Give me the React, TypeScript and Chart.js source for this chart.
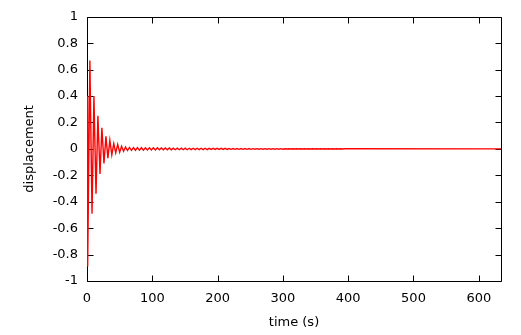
import React, { useEffect, useRef } from "react";
import { Chart, registerables } from "chart.js";

Chart.register(...registerables);

// Extrema of the early, large oscillation (time s, displacement)
const headTimes = [0, 1, 4.4, 7.7, 10.6, 13.8, 16.7, 19.9, 22.8, 26.0, 29.0, 32.0, 35.0, 38.0, 41.0, 44.0, 47.0, 50.0, 53.0, 56.0, 59.0];
const headValues = [0.40, -0.89, 0.67, -0.49, 0.40, -0.34, 0.25, -0.19, 0.16, -0.11, 0.095, -0.07, 0.065, -0.045, 0.04, -0.03, 0.034, -0.025, 0.02, -0.018, 0.014];

// Small residual oscillation, sampled every half period from tailStart
const tailStart = 62.0;
const tailStep = 3.05;
const tailValues = [
  -0.012, 0.011, -0.011, 0.010, -0.010, 0.010, -0.009, 0.009, -0.009, 0.009,
  -0.008, 0.008, -0.008, 0.008, -0.008, 0.008, -0.007, 0.007, -0.007, 0.007,
  -0.007, 0.007, -0.007, 0.006, -0.006, 0.006, -0.006, 0.006, -0.006, 0.006,
  -0.006, 0.005, -0.005, 0.005, -0.005, 0.005, -0.005, 0.005, -0.005, 0.005,
  -0.005, 0.004, -0.004, 0.004, -0.004, 0.004, -0.004, 0.004, -0.004, 0.004,
  -0.004, 0.003, -0.003, 0.003, -0.003, 0.003, -0.003, 0.003, -0.003, 0.003,
  -0.003, 0.003, -0.003, 0.002, -0.002, 0.002, -0.002, 0.002, -0.002, 0.002,
  -0.002, 0.002, -0.002, 0.002, -0.002, 0.002, -0.002, 0.002, -0.002, 0.001,
  -0.001, 0.001, -0.001, 0.001, -0.001, 0.001, -0.001, 0.001, -0.001, 0.001,
  -0.001, 0.001, -0.001, 0.001, -0.001, 0.001, -0.001, 0.001, -0.001, 0.001,
  -0.001, 0.001, -0.001, 0.001, -0.001, 0.001, -0.001, 0.001, -0.001, 0.001,
];
const endTime = 634;
const endValue = 0;

const xMin = 0;
const xMax = 634;
const xTickValues = [0, 100, 200, 300, 400, 500, 600];
const xTickLabels = ["0", "100", "200", "300", "400", "500", "600"];
const yTickValues = [-1, -0.8, -0.6, -0.4, -0.2, 0, 0.2, 0.4, 0.6, 0.8, 1];
const yTickLabels = ["-1", "-0.8", "-0.6", "-0.4", "-0.2", "0", "0.2", "0.4", "0.6", "0.8", "1"];

const FONT = { family: "'DejaVu Sans', sans-serif", size: 13 };
const TICK = 6;

const framePlugin = {
  id: "gnuframe",
  beforeDatasetsDraw(chart: any) {
    const { ctx, chartArea, scales } = chart;
    const { left, right, top, bottom } = chartArea;
    const x = scales.x;
    const y = scales.y;
    ctx.save();
    ctx.strokeStyle = "#000";
    ctx.lineWidth = 1;
    ctx.beginPath();
    const L = Math.round(left) + 0.5;
    const R = Math.round(right) + 0.5;
    const T = Math.round(top) + 0.5;
    const B = Math.round(bottom) + 0.5;
    ctx.moveTo(L, T);
    ctx.lineTo(R, T);
    ctx.lineTo(R, B);
    ctx.lineTo(L, B);
    ctx.closePath();
    for (const v of xTickValues) {
      const px = Math.round(x.getPixelForValue(v)) + 0.5;
      ctx.moveTo(px, B);
      ctx.lineTo(px, B - TICK);
      ctx.moveTo(px, T);
      ctx.lineTo(px, T + TICK);
    }
    for (const v of yTickValues) {
      const py = Math.round(y.getPixelForValue(v)) + 0.5;
      ctx.moveTo(L, py);
      ctx.lineTo(L + TICK, py);
      ctx.moveTo(R, py);
      ctx.lineTo(R - TICK, py);
    }
    ctx.stroke();
    ctx.restore();
  },
};

export default function App() {
  const ref = useRef<HTMLCanvasElement | null>(null);

  useEffect(() => {
    if (!ref.current) return;
    const points: { x: number; y: number }[] = [];
    headTimes.forEach((t, i) => points.push({ x: t, y: headValues[i] }));
    tailValues.forEach((v, i) => points.push({ x: tailStart + i * tailStep, y: v }));
    points.push({ x: endTime, y: endValue });

    const chart = new Chart(ref.current, {
      type: "line",
      data: {
        datasets: [
          {
            data: points,
            borderColor: "#ff0000",
            borderWidth: 1.4,
            pointRadius: 0,
            tension: 0,
            fill: false,
          },
        ],
      },
      plugins: [framePlugin],
      options: {
        animation: false,
        responsive: false,
        events: [],
        layout: { padding: { left: 0, right: 20, top: 16, bottom: 0 } },
        plugins: { legend: { display: false }, tooltip: { enabled: false } },
        scales: {
          x: {
            type: "linear",
            min: xMin,
            max: xMax,
            afterBuildTicks: (axis: any) => {
              axis.ticks = xTickValues.map((v) => ({ value: v }));
            },
            afterFit: (axis: any) => {
              axis.height = 54;
            },
            grid: { display: false, drawTicks: false },
            border: { display: false },
            ticks: {
              autoSkip: false,
              maxRotation: 0,
              padding: 10,
              color: "#000",
              font: FONT,
              callback: (value: any) => {
                const i = xTickValues.indexOf(Number(value));
                return i >= 0 ? xTickLabels[i] : "";
              },
            },
            title: {
              display: true,
              text: "time (s)",
              color: "#000",
              font: FONT,
              padding: { top: 0, bottom: 5 },
            },
          },
          y: {
            type: "linear",
            min: -1,
            max: 1,
            afterBuildTicks: (axis: any) => {
              axis.ticks = yTickValues.map((v) => ({ value: v }));
            },
            afterFit: (axis: any) => {
              axis.width = 87;
            },
            grid: { display: false, drawTicks: false },
            border: { display: false },
            ticks: {
              autoSkip: false,
              padding: 9,
              color: "#000",
              font: FONT,
              callback: (value: any) => {
                const i = yTickValues.findIndex((t) => Math.abs(t - Number(value)) < 1e-9);
                return i >= 0 ? yTickLabels[i] : "";
              },
            },
            title: {
              display: true,
              text: "displacement",
              color: "#000",
              font: FONT,
              padding: { top: 22, bottom: 0 },
            },
          },
        },
      },
    });
    return () => chart.destroy();
  }, []);

  return (
    <div style={{ position: "absolute", left: 0, top: 0, width: 521, height: 335, background: "#fff" }}>
      <canvas ref={ref} width={521} height={335} style={{ display: "block" }} />
    </div>
  );
}
